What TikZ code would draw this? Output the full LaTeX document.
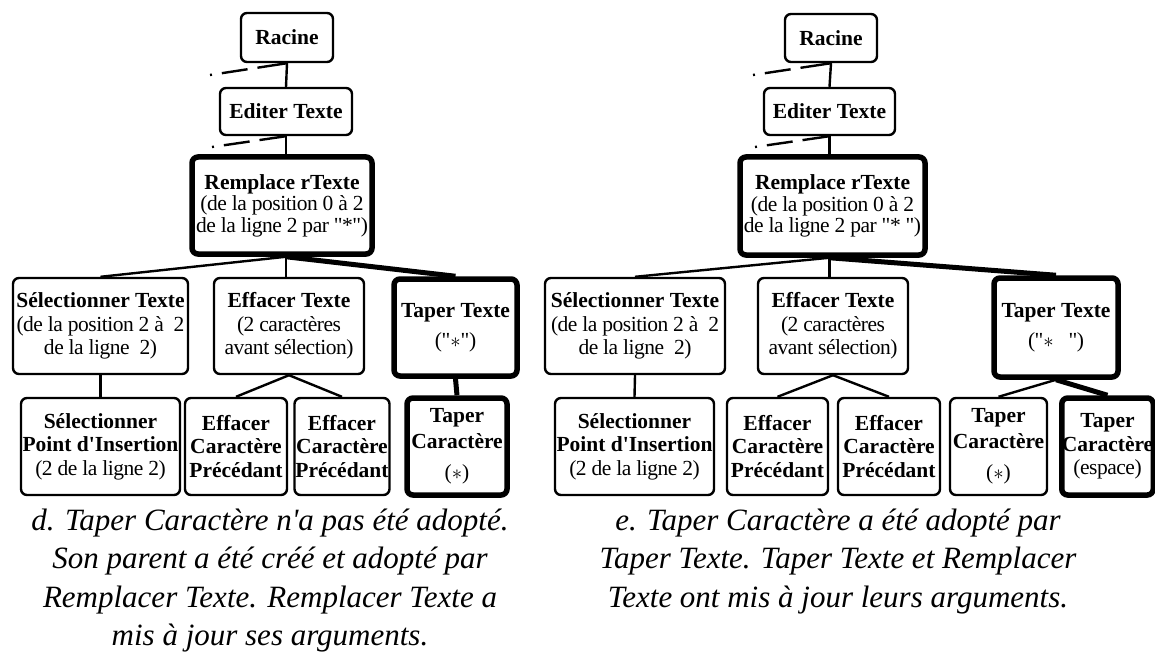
\documentclass[tikz,border=0pt]{standalone}
\usepackage{fontspec}
\newfontfamily\lsfont{Liberation Serif}
\newfontfamily\lsreg{Liberation Serif}[LetterSpace=-2.2]
\newcommand\rg[1]{{\lsreg #1}}
\newcommand\boxfont{\lsfont\fontsize{21.5}{23.5}\selectfont}
\newcommand\capfont{\lsfont\fontsize{31}{38}\selectfont\itshape}
\begin{document}
\begin{tikzpicture}[x=1pt,y=-1pt,
  box/.style={draw, line width=2.4pt, rounded corners=6pt, inner sep=0pt, align=center, font=\boxfont},
  thickbox/.style={box, line width=5.5pt},
  edge/.style={line width=2.4pt},
  thickedge/.style={line width=5pt},
  dashline/.style={line width=2.4pt, dash pattern=on 2pt off 10pt on 26pt off 10pt on 40pt},
  caption/.style={anchor=base, inner sep=0pt, font=\capfont}]
\useasboundingbox (0,0) rectangle (1155,655);
\fill[white] (0,0) rectangle (1155,655);

% ---------------- left tree ----------------
\node[box, minimum width=92, minimum height=49] (RacL) at (287,37.5) {\textbf{Racine}};
\node[box, minimum width=132, minimum height=47] (EdL) at (286,111.5) {\textbf{Editer Texte}};
\node[thickbox, minimum width=180, minimum height=97, font=\lsfont\fontsize{21.5}{21.5}\selectfont] (RemL) at (282,205.5)
  {\textbf{Remplace rTexte}\\\rg{(de la position 0 à 2}\\\rg{de la ligne 2 par "*")}};
\node[box, minimum width=175, minimum height=96] (SelTL) at (100.5,326)
  {\textbf{Sélectionner Texte}\\\rg{(de la position 2 à~ 2}\\\rg{de la ligne~ 2)}};
\node[box, minimum width=150, minimum height=96] (EffTL) at (289,326)
  {\textbf{Effacer Texte}\\\rg{(2 caractères}\\\rg{avant sélection)}};
\node[thickbox, minimum width=123, minimum height=97] (TapTL) at (455.5,327.5)
  {\textbf{Taper Texte}\\[7pt]\rg{("$*$")}};
\node[box, minimum width=159, minimum height=97] (SelPL) at (100.5,446.5)
  {\textbf{Sélectionner}\\\textbf{Point d'Insertion}\\\rg{(2 de la ligne 2)}};
\node[box, minimum width=102, minimum height=97] (EffC1L) at (236,446.5)
  {\textbf{Effacer}\\\textbf{Caractère}\\\textbf{Précédant}};
\node[box, minimum width=95, minimum height=97] (EffC2L) at (342,446.5)
  {\textbf{Effacer}\\\textbf{Caractère}\\\textbf{Précédant}};
\node[thickbox, minimum width=100, minimum height=97] (TapCL) at (457,446.5)
  {\textbf{Taper}\\[2pt]\textbf{Caractère}\\[8pt]\rg{($*$)}};

\coordinate (dL1) at (210,75);
\coordinate (dL2) at (212,147);
\draw[dashline] (dL1) -- (RacL.south);
\draw[dashline] (dL2) -- (EdL.south);
\draw[edge] (RacL.south) -- (EdL.north);
\draw[edge] (EdL.south) -- (EdL.south |- RemL.north);
\coordinate (RemLb) at (EdL.south |- RemL.south);
\draw[edge] (RemLb) -- (SelTL.north);
\draw[edge] (RemLb) -- (RemLb |- EffTL.north);
\draw[thickedge] (RemLb) -- (TapTL.north);
\draw[edge] (SelTL.south) -- (SelPL.north);
\draw[edge] (EffTL.south) -- (EffC1L.north);
\draw[edge] (EffTL.south) -- (EffC2L.north);
\draw[thickedge] (TapTL.south) -- (TapCL.north);

\node[caption] (capL1) at (270,530) {d. Taper Caractère n'a pas été adopté.};
\node[caption] (capL2) at (270,568) {Son parent a été créé et adopté par};
\node[caption] (capL3) at (270,607) {Remplacer Texte. Remplacer Texte a};
\node[caption] (capL4) at (270,645) {mis à jour ses arguments.};

% ---------------- right tree ----------------
\node[box, minimum width=92, minimum height=48] (RacR) at (831,38) {\textbf{Racine}};
\node[box, minimum width=131, minimum height=47] (EdR) at (829.5,111.5) {\textbf{Editer Texte}};
\node[thickbox, minimum width=185, minimum height=98, font=\lsfont\fontsize{21.5}{21.5}\selectfont] (RemR) at (832.5,206)
  {\textbf{Remplace rTexte}\\\rg{(de la position 0 à 2}\\\rg{de la ligne 2 par "* ")}};
\node[box, minimum width=180, minimum height=96] (SelTR) at (635,326)
  {\textbf{Sélectionner Texte}\\\rg{(de la position 2 à~ 2}\\\rg{de la ligne~ 2)}};
\node[box, minimum width=150, minimum height=96] (EffTR) at (833,326)
  {\textbf{Effacer Texte}\\\rg{(2 caractères}\\\rg{avant sélection)}};
\node[thickbox, minimum width=124, minimum height=99] (TapTR) at (1056,327.5)
  {\textbf{Taper Texte}\\[7pt]\rg{("$*$~~~")}};
\node[box, minimum width=159, minimum height=97] (SelPR) at (634.5,446.5)
  {\textbf{Sélectionner}\\\textbf{Point d'Insertion}\\\rg{(2 de la ligne 2)}};
\node[box, minimum width=101, minimum height=97] (EffC1R) at (777.5,446.5)
  {\textbf{Effacer}\\\textbf{Caractère}\\\textbf{Précédant}};
\node[box, minimum width=102, minimum height=97] (EffC2R) at (889,446.5)
  {\textbf{Effacer}\\\textbf{Caractère}\\\textbf{Précédant}};
\node[box, minimum width=97, minimum height=97] (TapC1R) at (998.5,446.5)
  {\textbf{Taper}\\[2pt]\textbf{Caractère}\\[8pt]\rg{($*$)}};
\node[thickbox, minimum width=89, minimum height=97] (TapC2R) at (1107.5,446.5)
  {\textbf{Taper}\\\textbf{Caractère}\\\rg{(espace)}};

\coordinate (dR1) at (753,75);
\coordinate (dR2) at (755,147);
\draw[dashline] (dR1) -- (RacR.south);
\draw[dashline] (dR2) -- (EdR.south);
\draw[edge] (RacR.south) -- (EdR.north);
\draw[edge] (EdR.south) -- (EdR.south |- RemR.north);
\coordinate (RemRb) at (EdR.south |- RemR.south);
\draw[edge] (RemRb) -- (SelTR.north);
\draw[edge] (RemRb) -- (RemRb |- EffTR.north);
\draw[thickedge] (RemRb) -- (TapTR.north);
\draw[edge] (SelTR.south) -- (SelPR.north);
\draw[edge] (EffTR.south) -- (EffC1R.north);
\draw[edge] (EffTR.south) -- (EffC2R.north);
\draw[edge] (TapTR.south) -- (TapC1R.north);
\draw[thickedge] (TapTR.south) -- (TapC2R.north);

\node[caption] (capR1) at (838,530) {e. Taper Caractère a été adopté par};
\node[caption] (capR2) at (838,568) {Taper Texte. Taper Texte et Remplacer};
\node[caption] (capR3) at (838,607) {Texte ont mis à jour leurs arguments.};
\end{tikzpicture}
\end{document}
